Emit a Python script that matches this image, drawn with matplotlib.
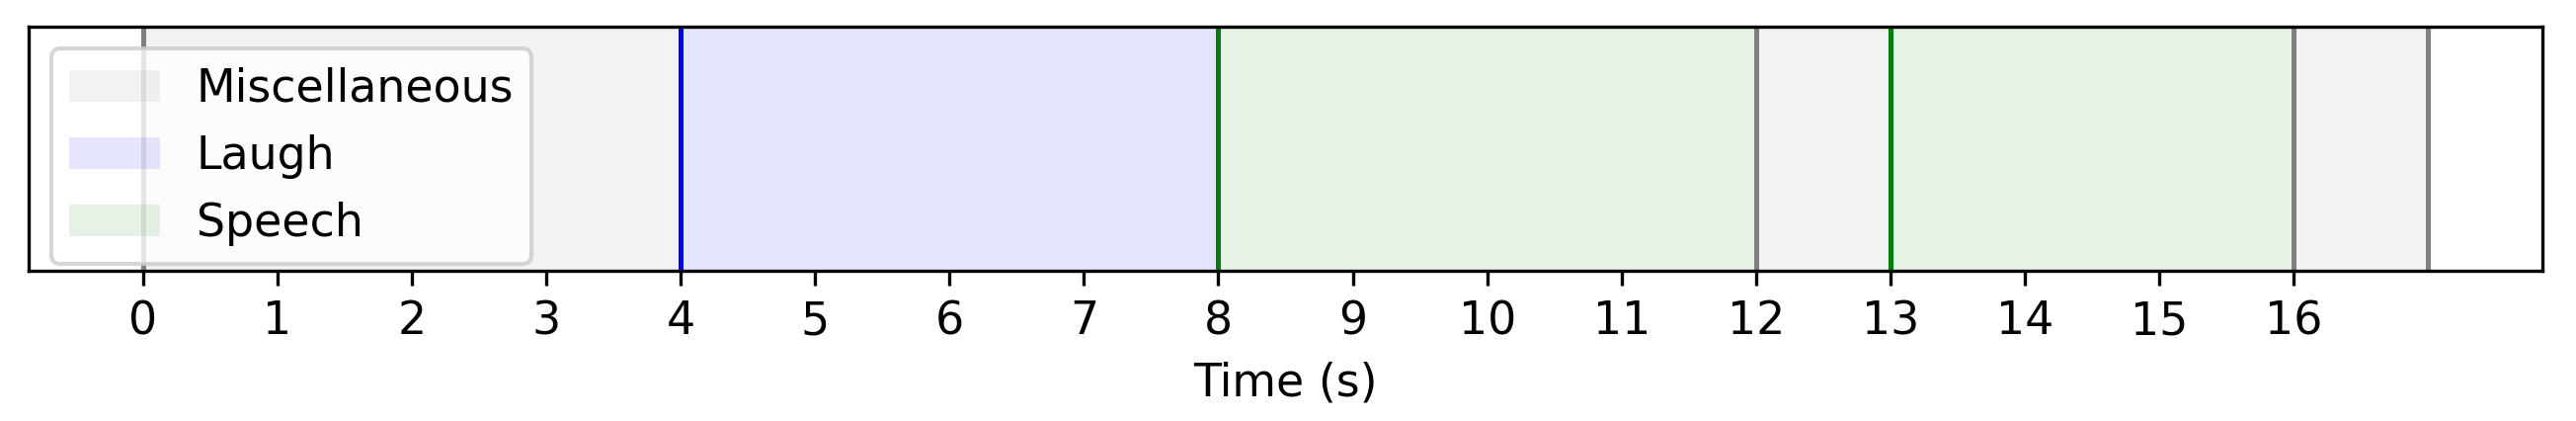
import matplotlib
matplotlib.use("Agg")
import matplotlib.pyplot as plt

# segments of the annotated clip (seconds)
labels = ["Miscellaneous", "Laugh", "Speech", "Miscellaneous", "Speech", "Miscellaneous"]
starts = [0, 4, 8, 12, 13, 16]
ends = [4, 8, 12, 13, 16, 17]
ticks = list(range(17))

colors = {"Miscellaneous": "gray", "Laugh": "blue", "Speech": "green"}

plt.rcParams["font.size"] = 11

fig = plt.figure(figsize=(2608 / 300, 426 / 300), dpi=300)
ax = fig.add_axes([29 / 2608, 1 - 274.3 / 426, (2574 - 29) / 2608, (274.3 - 26.5) / 426])

seen = set()
for lab, s, e in zip(labels, starts, ends):
    c = colors[lab]
    ax.axvspan(s, e, color=c, alpha=0.1, lw=0,
               label=lab if lab not in seen else None)
    seen.add(lab)
    ax.axvline(s, color=c, lw=1.2)
    ax.axvline(e, color=c, lw=1.2)

ax.set_xticks(ticks)
ax.set_yticks([])
ax.set_xlabel("Time (s)")
ax.legend(loc="upper left")

fig.savefig("out.png", dpi=300)
